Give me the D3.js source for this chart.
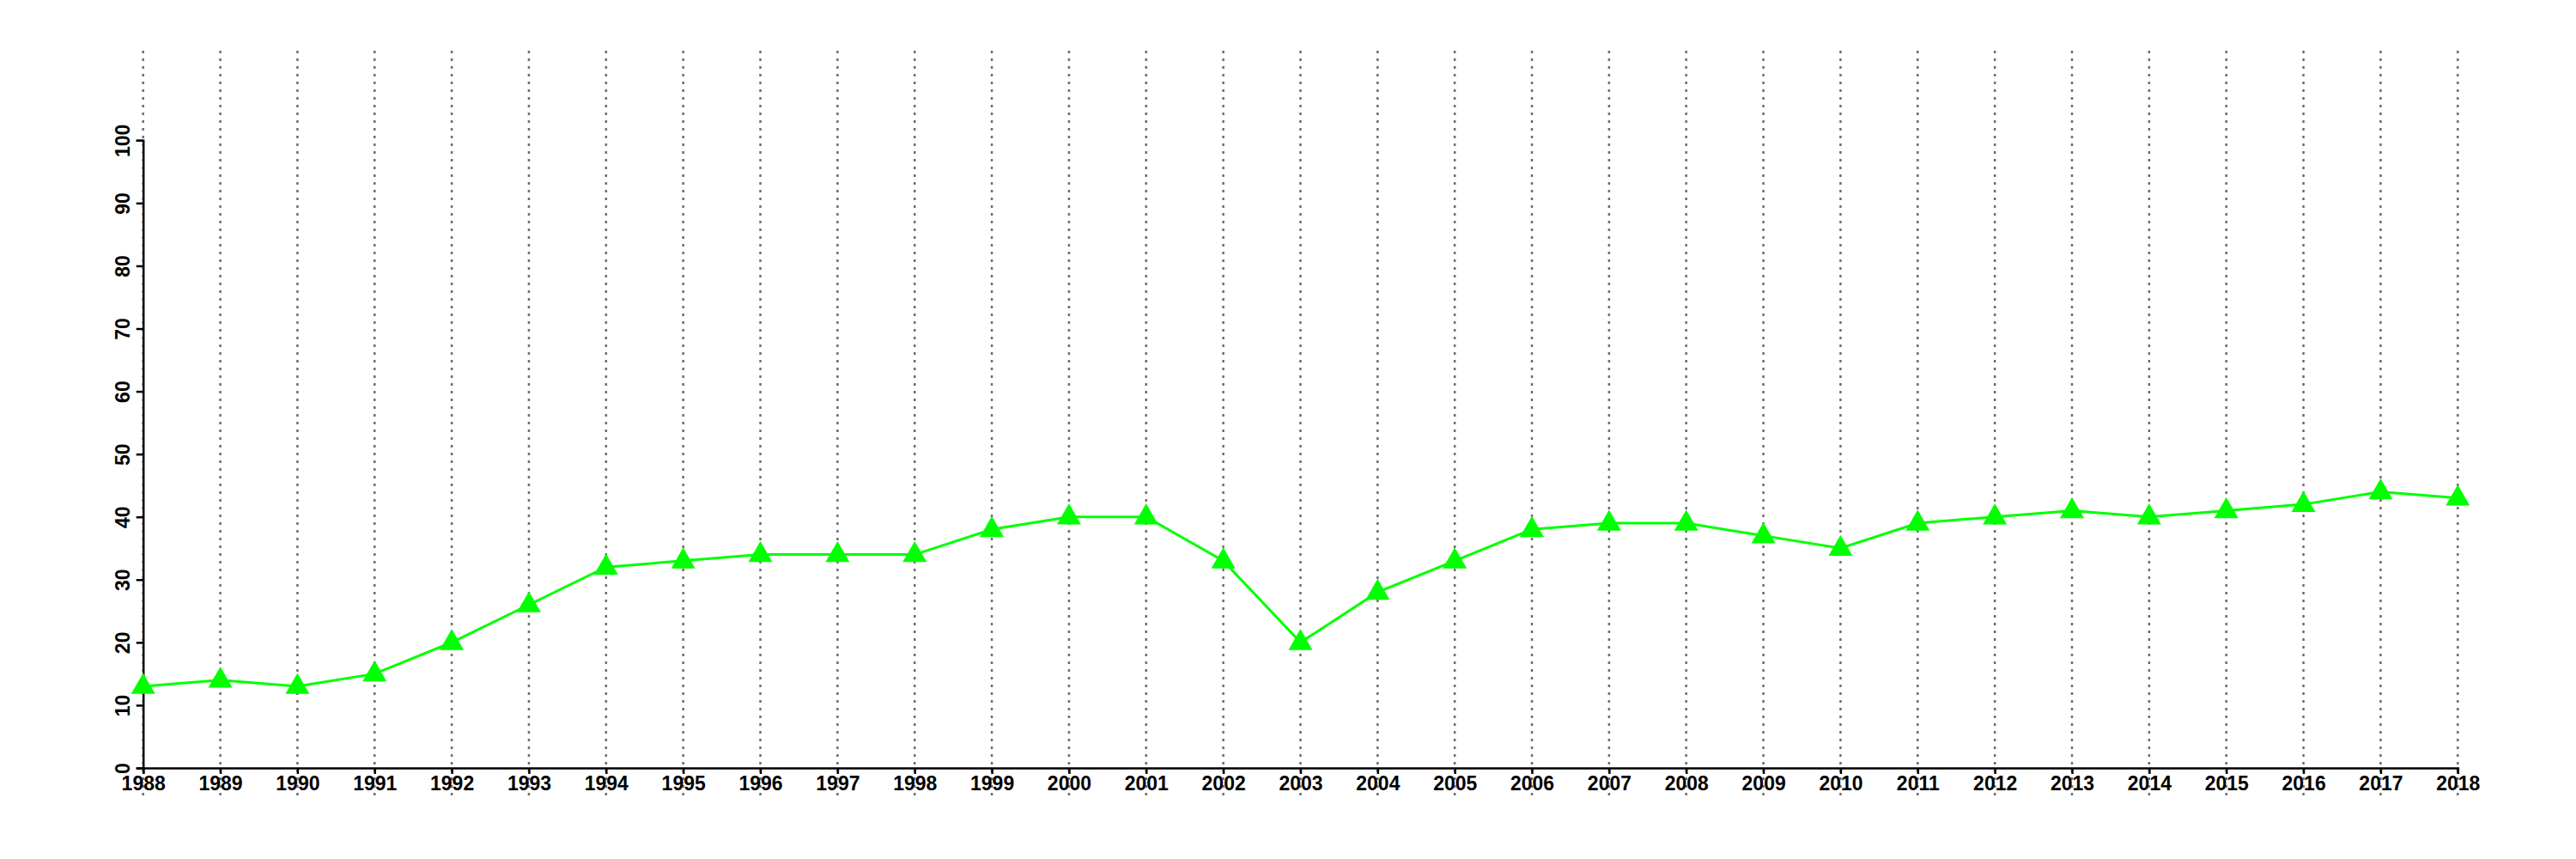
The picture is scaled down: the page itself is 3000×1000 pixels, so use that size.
<!DOCTYPE html>
<html><head><meta charset="utf-8">
<script src="https://cdn.jsdelivr.net/npm/d3@7"></script>
<style>body{margin:0;background:#fff}svg{display:block}</style>
</head><body>
<script>
const years = [1988,1989,1990,1991,1992,1993,1994,1995,1996,1997,1998,1999,2000,2001,2002,2003,2004,2005,2006,2007,2008,2009,2010,2011,2012,2013,2014,2015,2016,2017,2018];
const values = [13,14,13,15,20,26,32,33,34,34,34,38,40,40,33,20,28,33,38,39,39,37,35,39,40,41,40,41,42,44,43];
const yTicks = [0,10,20,30,40,50,60,70,80,90,100];

const W = 3000, H = 1000;
const svg = d3.select("body").append("svg").attr("width", W).attr("height", H);
const x = d3.scaleLinear().domain([1988, 2018]).range([166.7, 2862.3]);
const y = d3.scaleLinear().domain([0, 100]).range([894, 163.3]);
const font = "'Liberation Sans', Arial, Helvetica, sans-serif";

// dotted vertical grid
svg.append("g").selectAll("line").data(years).join("line")
  .attr("x1", d => x(d)).attr("x2", d => x(d))
  .attr("y1", 59).attr("y2", 928)
  .attr("stroke", "#6e6e6e").attr("stroke-width", 2.5)
  .attr("stroke-dasharray", "3,6");

// x axis
const xAxis = svg.append("g").attr("transform", `translate(0,${y(0)})`)
  .call(d3.axisBottom(x).tickValues(years).tickFormat(d3.format("d")).tickSizeOuter(0).tickSize(7).tickPadding(3));
xAxis.select(".domain").attr("stroke", "#000").attr("stroke-width", 2.5);
xAxis.selectAll(".tick line").attr("stroke", "#000").attr("stroke-width", 2.5);
xAxis.selectAll("text").attr("font-family", font).attr("font-weight", "bold")
  .attr("font-size", 23).attr("fill", "#000");

// y axis
const yAxis = svg.append("g").attr("transform", `translate(${x(1988)},0)`)
  .call(d3.axisLeft(y).tickValues(yTicks).tickSizeOuter(0).tickSize(8).tickFormat(d3.format("d")));
yAxis.select(".domain").attr("stroke", "#000").attr("stroke-width", 2.5);
yAxis.selectAll(".tick line").attr("stroke", "#000").attr("stroke-width", 2.5);
yAxis.selectAll("text")
  .attr("font-family", font).attr("font-weight", "bold").attr("font-size", 23).attr("fill", "#000")
  .attr("x", null).attr("dy", null)
  .attr("text-anchor", "middle")
  .attr("transform", "translate(-15.7,0) rotate(-90)");

// line
const pts = years.map((yr, i) => ({yr, v: values[i]}));
svg.append("path").datum(pts)
  .attr("fill", "none").attr("stroke", "#00ff00").attr("stroke-width", 3)
  .attr("d", d3.line().x(d => x(d.yr)).y(d => y(d.v)));

// triangle markers
svg.append("g").selectAll("path").data(pts).join("path")
  .attr("transform", d => `translate(${x(d.yr)},${y(d.v)})`)
  .attr("d", "M0,-15.6L14,8.8L-14,8.8Z")
  .attr("fill", "#00ff00");
</script>
</body></html>
